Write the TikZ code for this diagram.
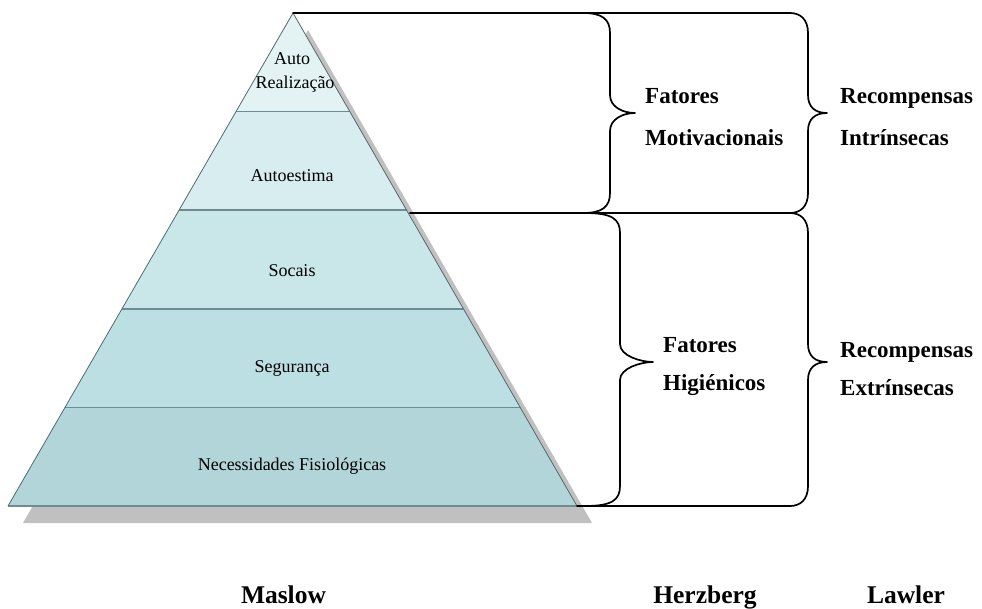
\documentclass[tikz,border=0pt]{standalone}
\usepackage{fontspec}
\setmainfont{Liberation Serif}
\usetikzlibrary{calc}
\definecolor{tA}{HTML}{E3F2F3}
\definecolor{tB}{HTML}{D7EDEF}
\definecolor{tC}{HTML}{C9E6E9}
\definecolor{tD}{HTML}{BBDFE2}
\definecolor{tE}{HTML}{B1D5D8}
\definecolor{tierline}{HTML}{6E8B8F}
\definecolor{edgeline}{HTML}{55696C}
\definecolor{shadowgray}{HTML}{C0C0C0}
\newcommand{\mybrace}[6]{% xe xv xt yt ym yb
  \draw[brc] (#1,#4) .. controls ({#2-8},#4) and (#2,{#4+6}) .. (#2,{#4+20})
    -- (#2,{#5-18}) .. controls (#2,{#5-6}) and ({#3-12},#5) .. (#3,#5)
    .. controls ({#3-12},#5) and (#2,{#5+6}) .. (#2,{#5+18})
    -- (#2,{#6-20}) .. controls (#2,{#6-6}) and ({#2-8},#6) .. (#1,#6);}
\begin{document}
\begin{tikzpicture}[x=1pt,y=-1pt,
  tierln/.style={draw=tierline, line width=1.6pt},
  brc/.style={draw=black, line width=1.7pt, line join=round, line cap=round},
  lbl/.style={font=\fontsize{18}{20}\selectfont, inner sep=0pt, anchor=base},
  rlbl/.style={font=\bfseries\fontsize{23}{26}\selectfont, inner sep=0pt, anchor=base west},
  blbl/.style={font=\bfseries\fontsize{25.5}{28}\selectfont, inner sep=0pt, anchor=base}]
\useasboundingbox (0,0) rectangle (982,608);
% pyramid corners
\coordinate (A) at (293,13);
\coordinate (L) at (8,506);
\coordinate (R) at (577,506);
% shadow
\fill[shadowgray] (308,30) -- (23,523) -- (592,523) -- cycle;
% tier boundaries
\foreach \t/\n in {0.2/1,0.4/2,0.6/3,0.8/4}{
  \coordinate (l\n) at ($(A)!\t!(L)$);
  \coordinate (r\n) at ($(A)!\t!(R)$);
}
\fill[tA] (A) -- (l1) -- (r1) -- cycle;
\fill[tB] (l1) -- (l2) -- (r2) -- (r1) -- cycle;
\fill[tC] (l2) -- (l3) -- (r3) -- (r2) -- cycle;
\fill[tD] (l3) -- (l4) -- (r4) -- (r3) -- cycle;
\fill[tE] (l4) -- (L) -- (R) -- (r4) -- cycle;
\foreach \n in {1,2,3,4}{ \draw[tierln] (l\n) -- (r\n); }
\draw[tierln] (L) -- (R);
\draw[edgeline, line width=0.8pt] (A) -- (L) (A) -- (R);
% tier labels
\node[lbl] (auto) at (292,64) {Auto};
\node[lbl] (realiz) at (295,88) {Realização};
\node[lbl] (estima) at (292,181) {Autoestima};
\node[lbl] (socais) at (292,276) {Socais};
\node[lbl] (seg) at (292,372) {Segurança};
\node[lbl] (fisio) at (292,470) {Necessidades Fisiológicas};
% horizontal lines
\coordinate (topend) at (790,13);
\coordinate (midstart) at (410,213);
\coordinate (midend) at (790,213);
\coordinate (botend) at (790,506);
\draw[brc] (A) -- (topend);
\draw[brc] (midstart) -- (midend);
\draw[brc] (R) -- (botend);
% braces
\mybrace{583}{610}{635}{13}{113}{213}
\mybrace{585}{620}{653}{213}{362}{506}
\mybrace{790}{808}{827}{13}{113}{213}
\mybrace{790}{808}{827}{213}{362}{506}
% right labels
\node[rlbl] (fat1) at (645,103) {Fatores};
\node[rlbl] (motiv) at (645,145) {Motivacionais};
\node[rlbl] (rec1) at (840,103) {Recompensas};
\node[rlbl] (intr) at (840,145) {Intrínsecas};
\node[rlbl] (fat2) at (663,352) {Fatores};
\node[rlbl] (hig) at (663,390) {Higiénicos};
\node[rlbl] (rec2) at (840,357) {Recompensas};
\node[rlbl] (extr) at (840,395) {Extrínsecas};
% bottom labels
\node[blbl] (maslow) at (283.5,603) {Maslow};
\node[blbl] (herz) at (705,603) {Herzberg};
\node[blbl] (lawler) at (906,603) {Lawler};
\end{tikzpicture}
\end{document}
